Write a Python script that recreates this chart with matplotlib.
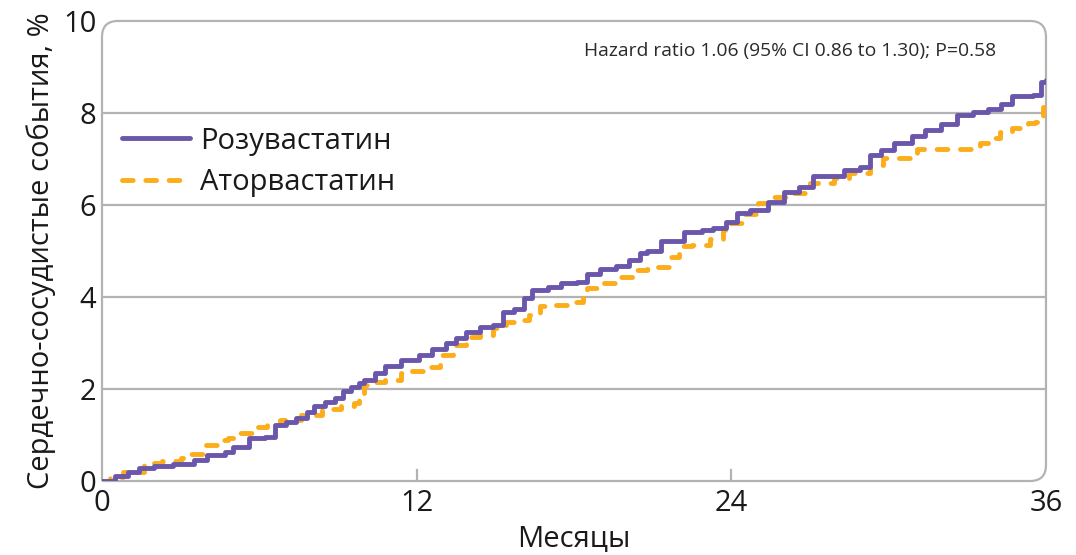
import matplotlib
matplotlib.use("Agg")
import matplotlib.pyplot as plt
from matplotlib.path import Path
from matplotlib.patches import PathPatch

plt.rcParams['font.family'] = ['Open Sans', 'DejaVu Sans']

# Cumulative cardiovascular events (%), step curves by month
rosu_months = [0, 0.5, 1.0, 1.4, 2.0, 2.7, 3.5, 4.0, 4.7, 5.0, 5.6, 6.2, 6.6, 7.0, 7.4,
               7.8, 8.1, 8.5, 8.9, 9.2, 9.5, 9.8, 10.0, 10.4, 10.8, 11.4, 12.1, 12.6,
               13.1, 13.5, 13.9, 14.4, 14.9, 15.3, 15.7, 16.1, 16.4, 17.0, 17.5, 18.1,
               18.5, 19.0, 19.6, 20.1, 20.5, 20.8, 21.3, 22.2, 22.9, 23.3, 23.8, 24.2,
               24.7, 25.4, 26.0, 26.6, 27.1, 28.3, 28.9, 29.3, 29.7, 30.2, 30.9, 31.4,
               32.0, 32.6, 33.2, 33.8, 34.3, 34.7, 35.5, 35.8, 36.0]
rosu_events = [0, 0.1, 0.2, 0.28, 0.33, 0.38, 0.46, 0.57, 0.64, 0.75, 0.93, 0.96, 1.22,
               1.28, 1.37, 1.5, 1.62, 1.72, 1.8, 1.95, 2.05, 2.12, 2.2, 2.35, 2.5, 2.63,
               2.74, 2.88, 2.99, 3.1, 3.25, 3.35, 3.39, 3.68, 3.75, 3.97, 4.15, 4.22, 4.3,
               4.33, 4.5, 4.6, 4.67, 4.8, 4.95, 4.99, 5.22, 5.42, 5.46, 5.49, 5.64, 5.82,
               5.9, 6.07, 6.29, 6.4, 6.62, 6.76, 6.83, 7.09, 7.2, 7.35, 7.5, 7.62, 7.75,
               7.95, 8.02, 8.09, 8.2, 8.37, 8.39, 8.68, 8.72]

ator_months = [0, 0.3, 0.8, 1.6, 2.3, 3.0, 3.4, 3.9, 4.4, 4.8, 5.2, 5.8, 6.3, 6.8, 7.6,
               8.4, 9.1, 9.6, 9.8, 10.0, 10.4, 10.8, 11.4, 11.8, 12.4, 12.9, 13.4, 13.9,
               14.4, 14.9, 15.4, 15.8, 16.3, 16.7, 17.1, 18.0, 18.35, 18.5, 19.1, 19.8,
               20.4, 20.8, 21.2, 21.7, 22.0, 22.5, 23.2, 23.7, 24.0, 24.5, 25.0, 25.6,
               26.4, 27.0, 27.9, 28.5, 29.3, 29.8, 31.1, 33.5, 34.0, 34.25, 34.7, 35.3,
               35.6, 35.9, 36.0]
ator_events = [0, 0.09, 0.2, 0.4, 0.44, 0.49, 0.59, 0.78, 0.89, 0.93, 1.04, 1.18, 1.22,
               1.33, 1.43, 1.56, 1.62, 1.69, 1.87, 2.09, 2.15, 2.2, 2.34, 2.39, 2.48,
               2.74, 2.96, 3.14, 3.17, 3.32, 3.46, 3.5, 3.6, 3.8, 3.83, 3.9, 4.04, 4.19,
               4.3, 4.44, 4.59, 4.6, 4.65, 4.88, 5.1, 5.14, 5.27, 5.46, 5.6, 5.8, 6.04,
               6.18, 6.25, 6.47, 6.58, 6.69, 6.87, 7.02, 7.21, 7.34, 7.46, 7.59, 7.67,
               7.79, 7.81, 8.14, 8.25]

x_ticks = [0, 12, 24, 36]
y_ticks = [0, 2, 4, 6, 8, 10]
series_names = ["Розувастатин", "Аторвастатин"]
hr_text = "Hazard ratio 1.06 (95% CI 0.86 to 1.30); P=0.58"

PURPLE = "#6a56ab"
ORANGE = "#fbad1a"
FRAME = "#b3b3b3"

fig = plt.figure(figsize=(10.76, 5.55), dpi=100)
ax = fig.add_axes([0.0948, 0.1333, 0.8773, 0.8289])
ax.set_xlim(0, 36)
ax.set_ylim(0, 10)

# horizontal grid
for yv in y_ticks[1:-1]:
    ax.plot([0, 36], [yv, yv], color=FRAME, lw=1.6, zorder=1, solid_capstyle='butt')

# frame with rounded top-left, top-right and bottom-right corners
rx, ry = 16 / 944, 16 / 460
verts = [(0, 0), (0, 1 - ry), (0, 1), (rx, 1), (1 - rx, 1), (1, 1), (1, 1 - ry),
         (1, ry), (1, 0), (1 - rx, 0), (0, 0)]
codes = [Path.MOVETO, Path.LINETO, Path.CURVE3, Path.CURVE3, Path.LINETO, Path.CURVE3,
         Path.CURVE3, Path.LINETO, Path.CURVE3, Path.CURVE3, Path.LINETO]
ax.add_patch(PathPatch(Path(verts, codes), transform=ax.transAxes, fill=False,
                       edgecolor=FRAME, lw=1.6, clip_on=False, zorder=1))
for s in ax.spines.values():
    s.set_visible(False)

# small inner ticks at 12 and 24 months
for xv in x_ticks[1:-1]:
    ax.plot([xv, xv], [0, 0.25], color=FRAME, lw=1.6, zorder=1)

ax.plot(rosu_months, rosu_events, drawstyle='steps-post', color=PURPLE, lw=3.5,
        label=series_names[0], zorder=3, solid_capstyle='round',
        solid_joinstyle='round')
ax.plot(ator_months, ator_events, drawstyle='steps-post', color=ORANGE, lw=3.5,
        dashes=(2.2, 2.6), dash_capstyle='round', dash_joinstyle='round',
        label=series_names[1], zorder=2)

ax.set_xticks(x_ticks)
ax.set_yticks(y_ticks)
ax.tick_params(axis='both', length=0, labelsize=21, colors='#1a1a1a')
ax.tick_params(axis='x', pad=6)
ax.tick_params(axis='y', pad=4)
ax.set_xlabel("Месяцы", fontsize=21, color='#1a1a1a', labelpad=4)
ax.set_ylabel("Сердечно-сосудистые события, %", fontsize=21, color='#1a1a1a', labelpad=5)

ax.text(0.947, 0.935, hr_text, transform=ax.transAxes, ha='right', va='center',
        fontsize=13.9, color='#2a2a2a')

leg = ax.legend(loc='upper left', bbox_to_anchor=(0.0, 0.815), frameon=False,
                fontsize=21, handlelength=2.3, handletextpad=0.35, labelspacing=0.42,
                borderaxespad=0.3)
for t in leg.get_texts():
    t.set_color('#1a1a1a')

fig.savefig("out.png", dpi=100)
